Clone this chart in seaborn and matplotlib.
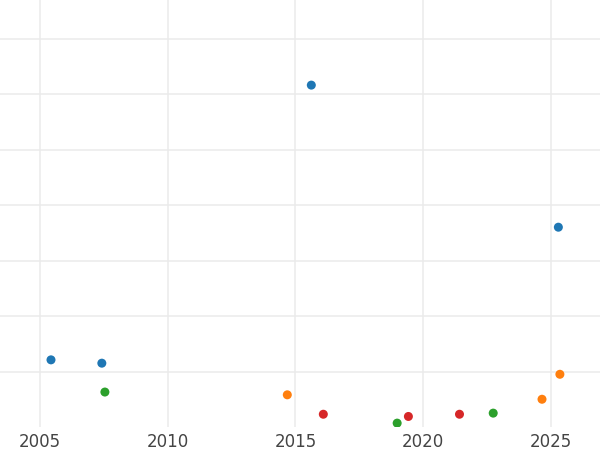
import matplotlib
matplotlib.use("Agg")
import matplotlib.pyplot as plt
import seaborn as sns
import pandas as pd

# Data (y in arbitrary grid units)
blue_x = [2005.43, 2007.42, 2015.62, 2025.29]
blue_y = [1.21, 1.15, 6.16, 3.60]
orange_x = [2014.68, 2024.65, 2025.35]
orange_y = [0.58, 0.50, 0.95]
green_x = [2007.54, 2018.98, 2022.74]
green_y = [0.63, 0.07, 0.25]
red_x = [2016.09, 2019.42, 2021.42]
red_y = [0.23, 0.19, 0.23]

series_names = ["A", "B", "C", "D"]
x_ticks = [2005, 2010, 2015, 2020, 2025]
x_tick_labels = ["2005", "2010", "2015", "2020", "2025"]
y_ticks = [1, 2, 3, 4, 5, 6, 7]

frames = []
for name, xs, ys in zip(series_names,
                        [blue_x, orange_x, green_x, red_x],
                        [blue_y, orange_y, green_y, red_y]):
    frames.append(pd.DataFrame({"year": xs, "value": ys, "series": name}))
df = pd.concat(frames, ignore_index=True)

sns.set_theme(style="whitegrid")
fig = plt.figure(figsize=(6, 4.5), dpi=100)
ax = fig.add_axes([0, 0.0511, 1, 0.9489])

palette = {"A": "#1f77b4", "B": "#ff7f0e", "C": "#2ca02c", "D": "#d62728"}
sns.scatterplot(data=df, x="year", y="value", hue="series", palette=palette,
                s=42, linewidth=0, legend=False, ax=ax, zorder=3)

ax.set_xlim(2003.434, 2026.92)
ax.set_ylim(0, 427 / 55.5)
ax.set_xticks(x_ticks)
ax.set_xticklabels(x_tick_labels)
ax.set_yticks(y_ticks)
ax.set_yticklabels([])
ax.set_xlabel("")
ax.set_ylabel("")
ax.grid(True, color="#ebebeb", linewidth=1.1)
for s in ax.spines.values():
    s.set_visible(False)
ax.tick_params(axis="x", labelsize=12, labelcolor="#444444", length=0, pad=4)
ax.tick_params(axis="y", length=0)
ax.set_facecolor("white")

fig.savefig("out.png", dpi=100)
